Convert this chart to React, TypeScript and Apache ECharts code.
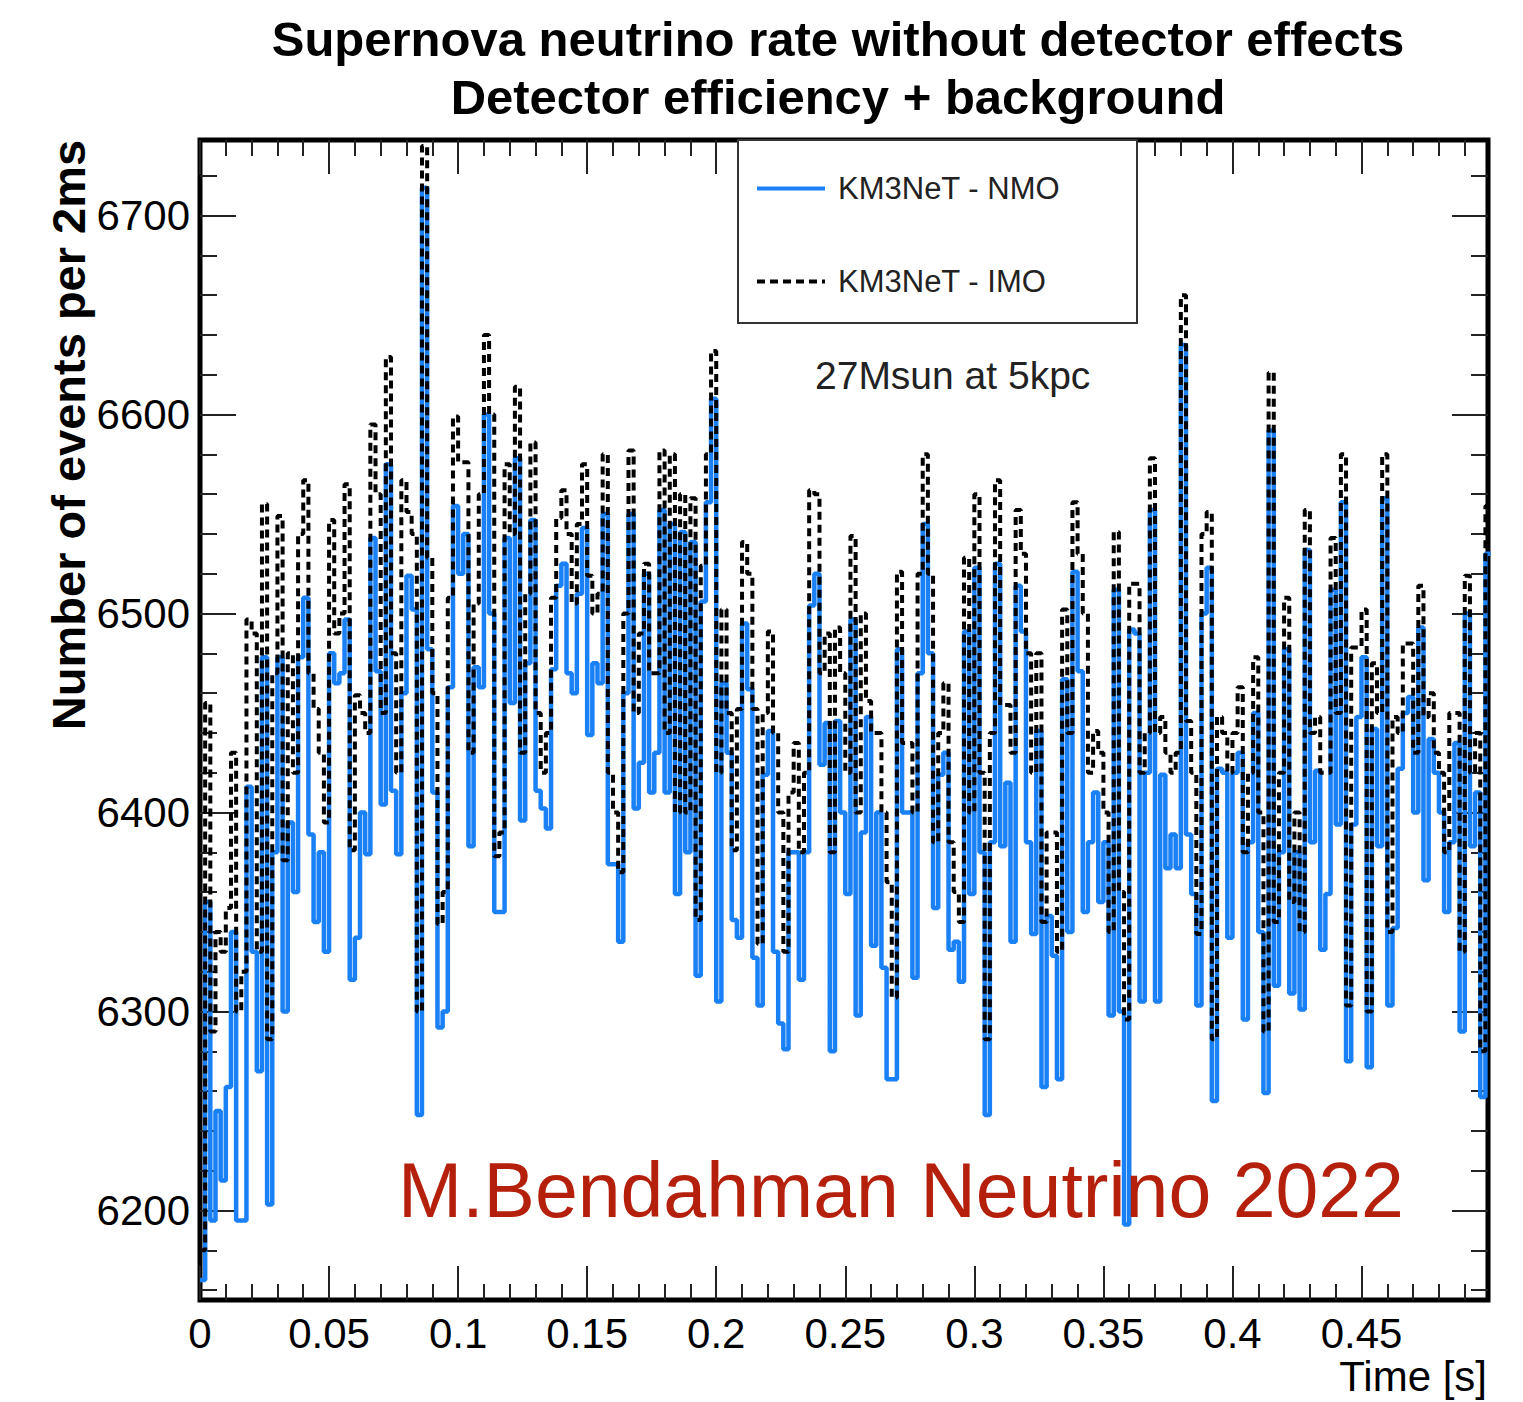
import React, { useEffect, useRef } from "react";
import * as echarts from "echarts";

const FONT = '"Liberation Sans", Arial, Helvetica, sans-serif';

const binWidth = 0.002; // 2 ms bins
const seriesNames = ["KM3NeT - NMO", "KM3NeT - IMO"];

// KM3NeT - NMO, events per 2 ms bin (250 bins, 0 - 0.5 s)
const nmoCounts = [
  6165, 6355, 6195, 6250, 6215, 6262, 6340, 6195, 6195, 6413,
  6330, 6270, 6478, 6203, 6380, 6478, 6300, 6395, 6360, 6478,
  6508, 6389, 6345, 6380, 6330, 6480, 6465, 6470, 6497, 6316,
  6337, 6400, 6379, 6538, 6471, 6404, 6575, 6411, 6379, 6460,
  6519, 6502, 6248, 6714, 6482, 6410, 6292, 6300, 6463, 6554,
  6520, 6540, 6383, 6473, 6463, 6600, 6500, 6350, 6350, 6538,
  6455, 6578, 6396, 6475, 6547, 6411, 6402, 6392, 6472, 6514,
  6525, 6470, 6460, 6510, 6543, 6439, 6475, 6465, 6550, 6374,
  6374, 6335, 6460, 6550, 6402, 6425, 6520, 6410, 6430, 6552,
  6410, 6545, 6359, 6541, 6380, 6536, 6318, 6506, 6556, 6608,
  6305, 6465, 6430, 6346, 6337, 6495, 6462, 6327, 6303, 6419,
  6441, 6330, 6294, 6281, 6380, 6380, 6316, 6380, 6504, 6520,
  6424, 6445, 6280, 6446, 6400, 6359, 6497, 6298, 6390, 6448,
  6333, 6400, 6322, 6266, 6266, 6482, 6400, 6400, 6317, 6470,
  6545, 6480, 6352, 6419, 6430, 6331, 6335, 6315, 6491, 6359,
  6523, 6380, 6248, 6385, 6525, 6383, 6415, 6335, 6514, 6491,
  6385, 6339, 6441, 6262, 6348, 6328, 6266, 6467, 6340, 6521,
  6471, 6350, 6385, 6410, 6355, 6385, 6298, 6512, 6300, 6193,
  6492, 6490, 6305, 6420, 6552, 6305, 6419, 6372, 6389, 6372,
  6635, 6389, 6359, 6303, 6500, 6523, 6255, 6422, 6420, 6337,
  6420, 6430, 6296, 6385, 6450, 6340, 6259, 6592, 6313, 6380,
  6482, 6309, 6380, 6301, 6532, 6385, 6421, 6331, 6359, 6512,
  6394, 6556, 6275, 6394, 6448, 6478, 6272, 6442, 6383, 6558,
  6303, 6342, 6422, 6450, 6458, 6400, 6493, 6366, 6437, 6420,
  6400, 6350, 6385, 6435, 6290, 6500, 6383, 6410, 6257, 6530,
];

// KM3NeT - IMO, events per 2 ms bin
const imoCounts = [
  6180, 6455, 6290, 6340, 6330, 6352, 6430, 6300, 6320, 6497,
  6490, 6330, 6555, 6286, 6470, 6549, 6376, 6480, 6420, 6540,
  6567, 6470, 6452, 6430, 6395, 6547, 6490, 6500, 6565, 6381,
  6459, 6450, 6440, 6595, 6560, 6450, 6629, 6480, 6420, 6567,
  6551, 6540, 6300, 6735, 6528, 6460, 6344, 6360, 6508, 6599,
  6576, 6576, 6430, 6505, 6560, 6640, 6600, 6378, 6390, 6575,
  6540, 6614, 6430, 6510, 6586, 6450, 6420, 6440, 6508, 6548,
  6562, 6540, 6505, 6545, 6575, 6519, 6500, 6510, 6580, 6420,
  6400, 6370, 6500, 6582, 6450, 6490, 6525, 6470, 6470, 6582,
  6440, 6580, 6400, 6560, 6400, 6558, 6346, 6524, 6580, 6632,
  6420, 6502, 6450, 6381, 6452, 6536, 6520, 6452, 6334, 6450,
  6491, 6440, 6400, 6330, 6410, 6435, 6380, 6420, 6562, 6560,
  6470, 6490, 6380, 6493, 6470, 6420, 6539, 6400, 6500, 6456,
  6440, 6440, 6400, 6365, 6307, 6521, 6435, 6435, 6400, 6520,
  6580, 6520, 6385, 6440, 6465, 6385, 6360, 6345, 6528, 6400,
  6560, 6420, 6286, 6440, 6567, 6454, 6454, 6430, 6552, 6530,
  6480, 6420, 6480, 6345, 6390, 6390, 6330, 6502, 6440, 6556,
  6530, 6500, 6420, 6441, 6430, 6400, 6340, 6541, 6360, 6296,
  6515, 6515, 6420, 6440, 6578, 6440, 6448, 6430, 6420, 6430,
  6660, 6446, 6420, 6339, 6540, 6551, 6286, 6448, 6440, 6420,
  6440, 6463, 6380, 6420, 6478, 6400, 6290, 6621, 6345, 6420,
  6508, 6355, 6400, 6340, 6552, 6440, 6448, 6420, 6420, 6538,
  6450, 6580, 6303, 6483, 6483, 6502, 6300, 6475, 6450, 6580,
  6340, 6448, 6440, 6485, 6485, 6430, 6514, 6448, 6460, 6430,
  6420, 6380, 6450, 6450, 6330, 6519, 6420, 6440, 6280, 6554,
];

const xMajorTicks = [0, 0.05, 0.1, 0.15, 0.2, 0.25, 0.3, 0.35, 0.4, 0.45];
const yMajorTicks = [6200, 6300, 6400, 6500, 6600, 6700];

const X_MIN = 0;
const X_MAX = 0.499;
const Y_MIN = 6155;
const Y_MAX = 6738;

const xMinorTicks: number[] = [];
for (let k = 1; k < 50; k++) if (k % 5 !== 0) xMinorTicks.push(+(k * 0.01).toFixed(2));
const yMinorTicks: number[] = [];
for (let v = 6160; v <= 6738; v += 20) if (v % 100 !== 0) yMinorTicks.push(v);

function toSteps(counts: number[]) {
  const pts = counts.map((v, i) => [+(i * binWidth).toFixed(3), v]);
  pts.push([+(counts.length * binWidth).toFixed(3), counts[counts.length - 1]]);
  return pts;
}

const TICK_COLOR = "#222";

function xAx(position: string, ticks: number[], len: number, labels: boolean) {
  return {
    type: "value",
    gridIndex: 0,
    position,
    offset: 0,
    min: X_MIN,
    max: X_MAX,
    axisLine: { show: false, onZero: false },
    splitLine: { show: false },
    axisTick: { show: true, inside: true, length: len, customValues: ticks, lineStyle: { color: TICK_COLOR, width: 2 } },
    axisLabel: labels
      ? {
          show: true,
          customValues: xMajorTicks,
          formatter: (v: number) => String(+v.toFixed(2)),
          fontSize: 42,
          color: "#000",
          margin: 12,
          fontFamily: FONT,
        }
      : { show: false },
  };
}

function yAx(position: string, ticks: number[], len: number, labels: boolean) {
  return {
    type: "value",
    gridIndex: 0,
    position,
    offset: 0,
    min: Y_MIN,
    max: Y_MAX,
    axisLine: { show: false, onZero: false },
    splitLine: { show: false },
    axisTick: { show: true, inside: true, length: len, customValues: ticks, lineStyle: { color: TICK_COLOR, width: 2 } },
    axisLabel: labels
      ? {
          show: true,
          customValues: yMajorTicks,
          formatter: (v: number) => String(v),
          fontSize: 42,
          color: "#000",
          margin: 10,
          fontFamily: FONT,
        }
      : { show: false },
  };
}

const legendCommon = {
  left: 750,
  orient: "vertical",
  itemWidth: 68,
  itemHeight: 26,
  selectedMode: false,
  itemStyle: { opacity: 0, borderWidth: 0 },
  lineStyle: { width: 4 },
  textStyle: { fontSize: 31, color: "#222", fontFamily: FONT, padding: [0, 0, 0, 8] },
  z: 20,
};

export default function App() {
  const ref = useRef<HTMLDivElement>(null);
  useEffect(() => {
    if (!ref.current) return;
    const chart = echarts.init(ref.current, undefined, { renderer: "svg" });
    chart.setOption({
      animation: false,
      backgroundColor: "#fff",
      title: [
        {
          text: "Supernova neutrino rate without detector effects",
          left: 838,
          top: 14,
          textAlign: "center",
          padding: 0,
          textStyle: { fontSize: 49, fontWeight: "bold", color: "#000", fontFamily: FONT },
        },
        {
          text: "Detector efficiency + background",
          left: 838,
          top: 72,
          textAlign: "center",
          padding: 0,
          textStyle: { fontSize: 49, fontWeight: "bold", color: "#000", fontFamily: FONT },
        },
      ],
      grid: {
        left: 200,
        right: 35,
        top: 140,
        bottom: 102,
        show: true,
        borderColor: "#000",
        borderWidth: 5,
        backgroundColor: "transparent",
        outerBoundsMode: "none",
      },
      xAxis: [
        xAx("bottom", xMajorTicks, 34, true),
        xAx("bottom", xMinorTicks, 16, false),
        xAx("top", xMajorTicks, 34, false),
        xAx("top", xMinorTicks, 16, false),
      ],
      yAxis: [
        yAx("left", yMajorTicks, 36, true),
        yAx("left", yMinorTicks, 17, false),
        yAx("right", yMajorTicks, 36, false),
        yAx("right", yMinorTicks, 17, false),
      ],
      legend: [
        { ...legendCommon, data: [seriesNames[0]], top: 168 },
        { ...legendCommon, data: [seriesNames[1]], top: 261 },
      ],
      graphic: [
        {
          type: "rect",
          z: 10,
          shape: { x: 738, y: 140, width: 399, height: 183 },
          style: { fill: "#fff", stroke: "#333", lineWidth: 2 },
        },
        {
          type: "text",
          z: 30,
          x: 68,
          y: 435,
          rotation: Math.PI / 2,
          style: {
            text: "Number of events per 2ms",
            font: `bold 47px ${FONT}`,
            fill: "#000",
            align: "center",
            verticalAlign: "middle",
          },
        },
        {
          type: "text",
          z: 30,
          x: 1487,
          y: 1376,
          style: { text: "Time [s]", font: `42px ${FONT}`, fill: "#000", align: "right", verticalAlign: "middle" },
        },
        {
          type: "text",
          z: 30,
          x: 815,
          y: 375,
          style: { text: "27Msun at 5kpc", font: `39px ${FONT}`, fill: "#222", align: "left", verticalAlign: "middle" },
        },
        {
          type: "text",
          z: 30,
          x: 398,
          y: 1190,
          style: {
            text: "M.Bendahman Neutrino 2022",
            font: `77px ${FONT}`,
            fill: "#b5200d",
            align: "left",
            verticalAlign: "middle",
          },
        },
      ],
      series: [
        {
          name: seriesNames[0],
          type: "line",
          step: "end",
          xAxisIndex: 0,
          yAxisIndex: 0,
          symbol: "none",
          data: toSteps(nmoCounts),
          lineStyle: { color: "#1a80f5", width: 4.5 },
          itemStyle: { color: "#1a80f5" },
          z: 2,
        },
        {
          name: seriesNames[1],
          type: "line",
          step: "end",
          xAxisIndex: 0,
          yAxisIndex: 0,
          symbol: "none",
          data: toSteps(imoCounts),
          lineStyle: { color: "#000", width: 4, type: [8, 5] },
          itemStyle: { color: "#000" },
          z: 3,
        },
      ],
    });
    return () => chart.dispose();
  }, []);
  return <div ref={ref} style={{ position: "fixed", left: 0, top: 0, width: 1523, height: 1402 }} />;
}
